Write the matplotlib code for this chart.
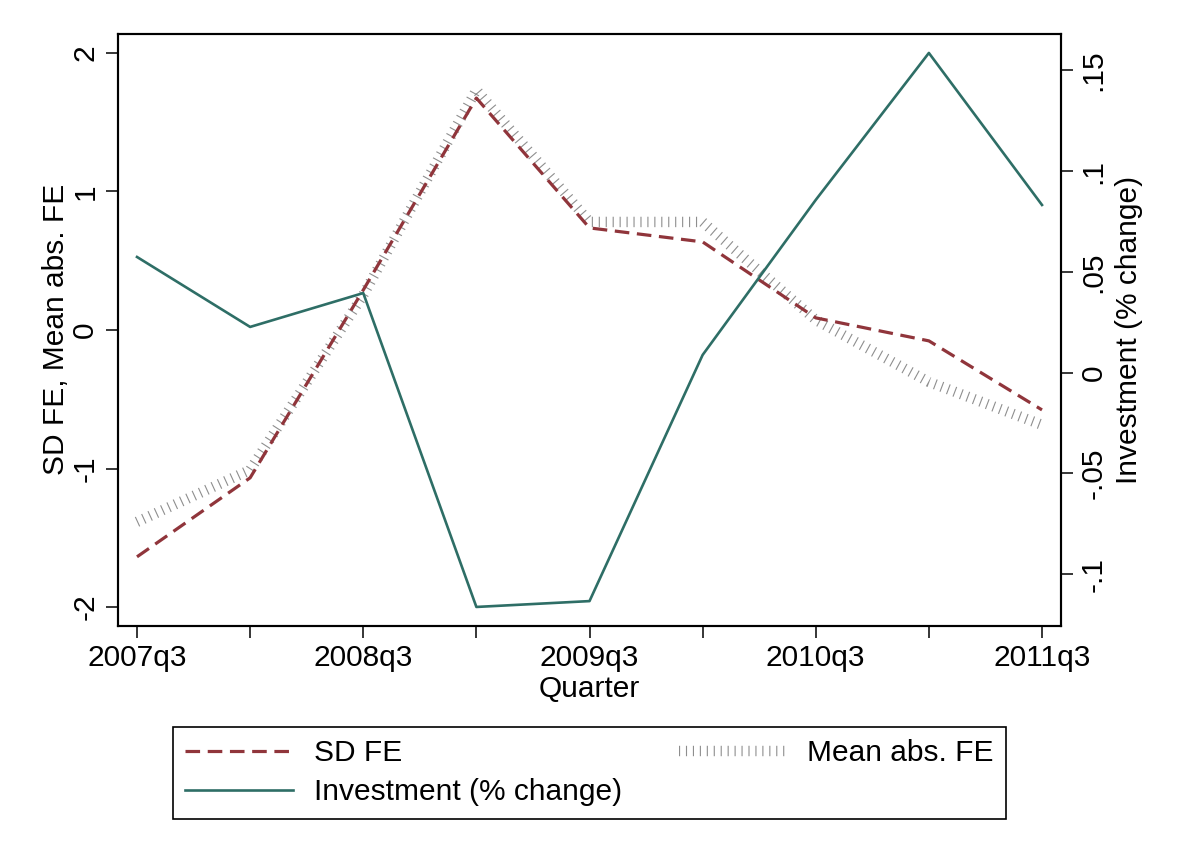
import matplotlib
matplotlib.use("Agg")
import matplotlib.pyplot as plt
import numpy as np

plt.rcParams['font.family'] = ['Liberation Sans', 'DejaVu Sans']
plt.rcParams['axes.unicode_minus'] = False
plt.rcParams['lines.scale_dashes'] = False

# data
quarters = ["2007q3", "2008q1", "2008q3", "2009q1", "2009q3",
            "2010q1", "2010q3", "2011q1", "2011q3"]
sd_fe = [-1.637, -1.067, 0.288, 1.673, 0.736, 0.635, 0.087, -0.079, -0.577]
mean_abs_fe = [-1.385, -1.010, 0.252, 1.731, 0.779, 0.779, 0.072, -0.375, -0.685]
investment = [0.0574, 0.0227, 0.0395, -0.1162, -0.1133, 0.0088, 0.0857, 0.1586, 0.0832]

left_ticks = [-2, -1, 0, 1, 2]
right_ticks = [-0.1, -0.05, 0, 0.05, 0.1, 0.15]
right_labels = ["-.1", "-.05", "0", ".05", ".1", ".15"]

# quarter index relative to first quarter
def qnum(s):
    return int(s[:4]) * 4 + int(s[-1])
x = np.array([qnum(q) - qnum(quarters[0]) for q in quarters])

red = '#90353b'
teal = '#2e6e66'
gray = '#8e8e8e'
fs = 21.5

fig = plt.figure(figsize=(11.79, 8.59), dpi=100)
ax = fig.add_axes([118/1179, 1-625.7/859, (1061-118)/1179, (625.7-34)/859])
ax2 = ax.twinx()

l2, = ax.plot(x, mean_abs_fe, color=gray, lw=7.5, dashes=(0.8, 4.2),
              dash_capstyle='butt', solid_joinstyle='miter', label='Mean abs. FE')
l1, = ax.plot(x, sd_fe, color=red, lw=2.3, dashes=(10.5, 5.5),
              dash_capstyle='butt', label='SD FE')
l3, = ax2.plot(x, investment, color=teal, lw=1.9, label='Investment (% change)')

ax.set_xlim(-0.336, 16.336)
ax.set_ylim(-2.134, 2.135)
ax2.set_ylim(-0.1255, 0.168)

ax.set_xticks(x)
ax.set_xticklabels([q if i % 2 == 0 else '' for i, q in enumerate(quarters)], fontsize=fs)
ax.set_yticks(left_ticks)
ax.set_yticklabels([str(t) for t in left_ticks], fontsize=fs, rotation=90, va='center')
ax2.set_yticks(right_ticks)
ax2.set_yticklabels(right_labels, fontsize=fs, rotation=90, va='center')

for a in (ax, ax2):
    a.tick_params(length=8.5, width=1.1, pad=5)
    for sp in a.spines.values():
        sp.set_linewidth(1.5)

ax.set_xlabel('Quarter', fontsize=fs, labelpad=2)
ax.set_ylabel('SD FE, Mean abs. FE', fontsize=fs, labelpad=1)
ax2.set_ylabel('Investment (% change)', fontsize=fs, labelpad=5)

leg = fig.legend([l1, l3, l2], ['SD FE', 'Investment (% change)', 'Mean abs. FE'],
                 ncol=2, mode='expand', fontsize=fs,
                 bbox_to_anchor=(172.7/1179, 1-819/859, (1006-172.7)/1179, 96.3/859),
                 loc='lower left', fancybox=False, framealpha=1, edgecolor='black',
                 handlelength=3.6, handletextpad=0.7, labelspacing=0.38,
                 borderpad=0.42, borderaxespad=0)
leg.get_frame().set_linewidth(1.2)

fig.savefig('out.png', dpi=100)
